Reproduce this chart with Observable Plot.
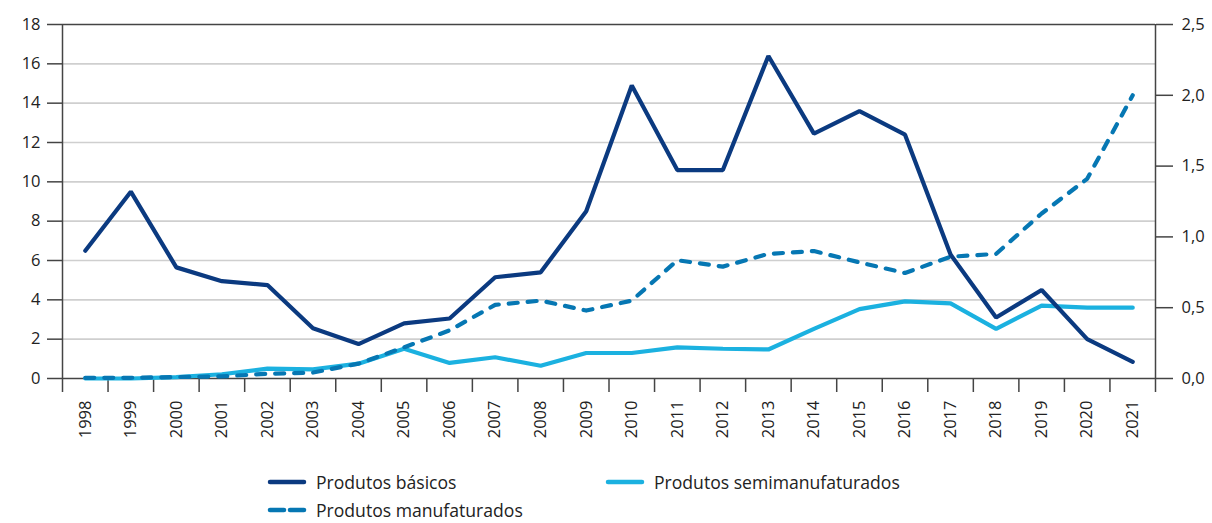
<!DOCTYPE html>
<html>
<head>
<meta charset="utf-8">
<script src="https://cdn.jsdelivr.net/npm/d3@7"></script>
<script src="https://cdn.jsdelivr.net/npm/@observablehq/plot@0.6"></script>
<style>
  body { margin: 0; background: #fff; font-family: "Open Sans", "Noto Sans", sans-serif; }
  #wrap { position: relative; width: 1212px; height: 523px; }
  .leg { position: absolute; display: flex; align-items: center; font-size: 17.6px; line-height: 16px; height: 16px; color: #222; white-space: nowrap; }
  .leg svg { margin-right: 8px; }
</style>
</head>
<body>
<div id="wrap">
  <div id="chart"></div>
</div>
<script>
const years = [1998,1999,2000,2001,2002,2003,2004,2005,2006,2007,2008,2009,2010,2011,2012,2013,2014,2015,2016,2017,2018,2019,2020,2021];
// Left axis (basic products)
const basicos = [6.5,9.5,5.65,4.95,4.75,2.55,1.75,2.8,3.05,5.15,5.4,8.5,14.9,10.6,10.6,16.4,12.45,13.6,12.4,6.3,3.1,4.5,2.0,0.85];
// Right axis
const semimanufaturados = [0.0,0.0,0.01,0.03,0.07,0.065,0.105,0.21,0.11,0.15,0.09,0.18,0.18,0.22,0.21,0.205,0.35,0.49,0.545,0.53,0.35,0.515,0.5,0.5];
const manufaturados = [0.005,0.005,0.01,0.015,0.033,0.042,0.105,0.22,0.34,0.52,0.55,0.48,0.55,0.835,0.79,0.88,0.9,0.82,0.745,0.86,0.88,1.165,1.41,2.0];
const leftTicks = [0,2,4,6,8,10,12,14,16,18];
const rightTicks = [0,0.5,1,1.5,2,2.5];
const seriesNames = ["Produtos básicos","Produtos semimanufaturados","Produtos manufaturados"];
const colors = ["#0b3a80","#1bb1e0","#0677b3"];

const ratio = 18 / 2.5;
const rows = years.map((y,i) => ({year:y, b:basicos[i], s:semimanufaturados[i]*ratio, m:manufaturados[i]*ratio}));
const bounds = years.map(y => y - 0.5).concat([years[years.length-1] + 0.5]);

const chart = Plot.plot({
  width: 1212, height: 460,
  marginTop: 24, marginLeft: 62, marginRight: 57, marginBottom: 82,
  style: {fontSize: "16.5px", fontFamily: "'Open Sans', 'Noto Sans', sans-serif", color: "#333", background: "#fff"},
  x: {type: "linear", domain: [bounds[0], bounds[bounds.length-1]]},
  y: {domain: [0, 18]},
  marks: [
    Plot.ruleY(leftTicks.filter(t => t > 0 && t < 18), {stroke: "#cfcfcf", strokeWidth: 1.6}),
    Plot.ruleY([0, 18], {stroke: "#444", strokeWidth: 1.5}),
    Plot.ruleX([bounds[0], bounds[bounds.length-1]], {y1: 0, y2: 18, stroke: "#444", strokeWidth: 1.5}),
    Plot.axisY({anchor: "left", ticks: leftTicks, tickSize: 15, tickPadding: 7, tickFormat: d => String(d), stroke: "#444", strokeWidth: 1.5, label: null, fill: "#222"}),
    Plot.axisY({anchor: "right", ticks: rightTicks.map(v => v * ratio), tickSize: 17, tickPadding: 9,
      tickFormat: d => (d / ratio).toFixed(1).replace(".", ","), stroke: "#444", strokeWidth: 1.5, label: null, fill: "#222"}),
    Plot.axisX({ticks: bounds, tickSize: 14, tickFormat: () => "", stroke: "#444", strokeWidth: 1.5, label: null}),
    Plot.axisX({ticks: years, tickSize: 0, tickPadding: 22, tickRotate: -90, tickFormat: d => String(d), label: null, fill: "#222"}),
    Plot.line(rows, {x: "year", y: "s", stroke: colors[1], strokeWidth: 4.2, strokeLinejoin: "miter", strokeLinecap: "round"}),
    Plot.line(rows, {x: "year", y: "m", stroke: colors[2], strokeWidth: 4.2, strokeDasharray: "9,10", strokeLinecap: "round", strokeLinejoin: "round"}),
    Plot.line(rows, {x: "year", y: "b", stroke: colors[0], strokeWidth: 4.2, strokeLinejoin: "miter", strokeLinecap: "round"})
  ]
});
document.getElementById("chart").appendChild(chart);

// Legend
const legendItems = [
  {name: seriesNames[0], color: colors[0], dash: null, left: 266, top: 474},
  {name: seriesNames[1], color: colors[1], dash: null, left: 604, top: 474},
  {name: seriesNames[2], color: colors[2], dash: "14,6", left: 266, top: 502}
];
const wrap = document.getElementById("wrap");
for (const it of legendItems) {
  const d = document.createElement("div");
  d.className = "leg";
  d.style.left = it.left + "px";
  d.style.top = it.top + "px";
  d.innerHTML = `<svg width="42" height="10"><line x1="4" y1="5" x2="38" y2="5" stroke="${it.color}" stroke-width="4.5" stroke-linecap="round" ${it.dash ? `stroke-dasharray="${it.dash}"` : ""}/></svg><span>${it.name}</span>`;
  wrap.appendChild(d);
}
</script>
</body>
</html>
